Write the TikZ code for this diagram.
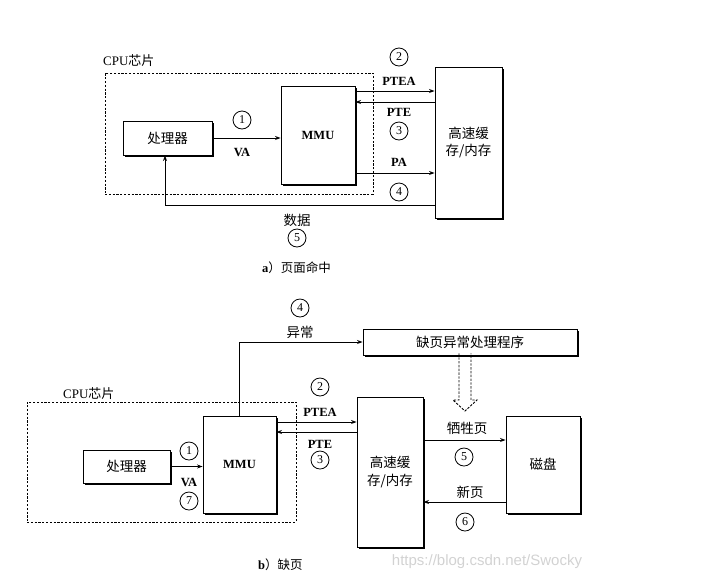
\documentclass[tikz,border=0pt]{standalone}
\usepackage{fontspec}
\setmainfont{Liberation Serif}
\newfontfamily\cjk{Noto Sans CJK SC}
\newfontfamily\wmfont{Liberation Sans}
\usetikzlibrary{arrows.meta,shadows}
\tikzset{
  box/.style={draw, line width=0.9pt, fill=white, inner sep=0pt,
    drop shadow={shadow xshift=1.6pt, shadow yshift=-1.6pt, fill=black, opacity=1}},
  chip/.style={draw, line width=1pt, dash pattern=on 2.2pt off 1.6pt, inner sep=0pt},
  arr/.style={line width=0.8pt, -{Stealth[length=5.5pt,width=4pt]}},
  num/.style={circle, draw, line width=0.8pt, minimum size=18pt, inner sep=0pt, font=\fontsize{12}{12}\selectfont},
  lat/.style={font=\fontsize{12.5}{12.5}\selectfont\bfseries, inner sep=0pt},
  zh/.style={font=\fontsize{13.5}{13.5}\selectfont\cjk, inner sep=0pt},
  captext/.style={font=\fontsize{12.5}{12.5}\selectfont\cjk, inner sep=0pt, anchor=west}
}
\begin{document}
\begin{tikzpicture}[x=1pt,y=-1pt]
\useasboundingbox (0,0) rectangle (709,582);

% ---------- (a) page hit ----------
\node[chip, minimum width=268pt, minimum height=121pt] (cpuA) at (239,133.5) {};
\node[lat, font=\fontsize{13}{13}\selectfont, anchor=west] (cpuAl) at (103,61) {CPU{\cjk 芯片}};
\node[box, minimum width=89pt, minimum height=34pt, zh] (procA) at (167.5,138) {处理器};
\node[box, minimum width=74pt, minimum height=98pt, lat] (mmuA) at (318,135) {MMU};
\node[box, minimum width=67pt, minimum height=151pt, zh, align=center,
      font=\fontsize{13.5}{17.5}\selectfont\cjk] (cacheA) at (468.5,142.5) {高速缓\\存/内存};

\draw[arr] (procA.east) -- (procA.east -| mmuA.west);
\node[num] (n1a) at (242,120) {1};
\node[lat] (vaA) at (242,152) {VA};

\draw[arr] (mmuA.east |- 0,91) -- (cacheA.west |- 0,91);
\draw[arr] (cacheA.west |- 0,102) -- (mmuA.east |- 0,102);
\draw[arr] (mmuA.east |- 0,173) -- (cacheA.west |- 0,173);
\node[num] (n2a) at (399,57) {2};
\node[lat] (pteaA) at (399,81) {PTEA};
\node[lat] (pteA) at (399,112) {PTE};
\node[num] (n3a) at (399,131) {3};
\node[lat] (paA) at (399,162) {PA};
\node[num] (n4a) at (399,192) {4};

\draw[arr] (cacheA.west |- 0,205) -| ([xshift=-2.5pt]procA.south);
\node[zh] (dataA) at (297,220) {数据};
\node[num] (n5a) at (297,238) {5};

\node[captext] (capA) at (262,268) {{\rmfamily\bfseries a}）页面命中};

% ---------- (b) page fault ----------
\node[chip, minimum width=269pt, minimum height=120pt] (cpuB) at (161.5,462) {};
\node[lat, font=\fontsize{13}{13}\selectfont, anchor=west] (cpuBl) at (63,394) {CPU{\cjk 芯片}};
\node[box, minimum width=87pt, minimum height=33pt, zh] (procB) at (126.5,466.5) {处理器};
\node[box, minimum width=73pt, minimum height=97pt, lat] (mmuB) at (239.5,464.5) {MMU};
\node[box, minimum width=66pt, minimum height=150pt, zh, align=center,
      font=\fontsize{13.5}{17.5}\selectfont\cjk] (cacheB) at (390,472) {高速缓\\存/内存};
\node[box, minimum width=74pt, minimum height=97pt, zh] (diskB) at (543,464.5) {磁盘};
\node[box, minimum width=214pt, minimum height=26pt, zh] (handler) at (470,342) {缺页异常处理程序};

\draw[arr] (procB.east) -- (procB.east -| mmuB.west);
\node[num] (n1b) at (189,451) {1};
\node[lat] (vaB) at (189,482) {VA};
\node[num] (n7b) at (189,501) {7};

\draw[arr] (mmuB.north) |- (handler.west);
\node[num] (n4b) at (300,308) {4};
\node[zh] (excB) at (300,332) {异常};

\draw[arr] (mmuB.east |- 0,422) -- (cacheB.west |- 0,422);
\draw[arr] (cacheB.west |- 0,432) -- (mmuB.east |- 0,432);
\node[num] (n2b) at (320,387) {2};
\node[lat] (pteaB) at (320,412) {PTEA};
\node[lat] (pteB) at (320,444) {PTE};
\node[num] (n3b) at (320,460) {3};

\draw[arr] (cacheB.east |- 0,440) -- (diskB.west |- 0,440);
\draw[arr] (diskB.west |- 0,502) -- (cacheB.east |- 0,502);
\node[zh] (victim) at (467,428) {牺牲页};
\node[num] (n5b) at (464,457) {5};
\node[zh] (newpg) at (470,492) {新页};
\node[num] (n6b) at (465,522) {6};

% hollow dashed arrow from handler
\coordinate (hA) at (handler.south -| 459,0);
\coordinate (hB) at (handler.south -| 471,0);
\draw[line width=0.9pt, dash pattern=on 2.4pt off 1.4pt]
  ([yshift=2pt]hA) -- (459,400) -- (453,400) -- (465,411) -- (477,400) -- (471,400) -- ([yshift=2pt]hB);

\node[captext] (capB) at (258,565) {{\rmfamily\bfseries b}）缺页};

\node[font=\fontsize{15}{15}\selectfont\wmfont, text=gray!35, inner sep=0pt] (wm) at (487,562) {https://blog.csdn.net/Swocky};
\end{tikzpicture}
\end{document}
